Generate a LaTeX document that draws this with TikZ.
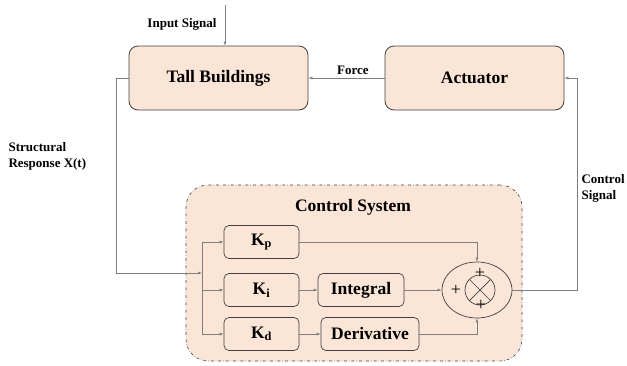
\documentclass[tikz,border=0pt]{standalone}
\usepackage{fontspec}
\setmainfont{Liberation Serif}
\usepackage{tikz}
\usetikzlibrary{shapes.geometric}
\usetikzlibrary{positioning}
\usetikzlibrary{calc}
\usetikzlibrary{arrows.meta}
\definecolor{peach}{HTML}{FBE5D6}
\definecolor{edge}{HTML}{404040}
\definecolor{wire}{HTML}{7F7F7F}
\tikzset{bigbox/.style={draw=edge,line width=0.8pt,fill=peach,rounded corners=9pt,minimum width=179pt,minimum height=64pt,font=\bfseries\fontsize{17.5}{19}\selectfont},
smallbox/.style={draw=edge,line width=0.7pt,rounded corners=5pt,minimum height=33pt,font=\bfseries\fontsize{17.5}{19}\selectfont},
lbl/.style={font=\bfseries\fontsize{13}{16}\selectfont,align=left},
wireline/.style={draw=wire,line width=0.6pt},
arr/.style={wireline,-{Latex[length=4pt,width=3pt]}}}

\begin{document}
\begin{tikzpicture}[x=1pt,y=-1pt]
\useasboundingbox (0,0) rectangle (627,365);

% plant and actuator
\node (tb) at (218.5,78) [bigbox] {Tall Buildings};
\node (act) at (474.5,78) [bigbox] {Actuator};

\coordinate (in) at (225,5);
\draw [arr] (in) -- (in |- tb.north);
\node (inlbl) at (182,24) [lbl] {Input Signal};

\draw [arr] (act.west) -- (tb.east);
\node (force) at (353,70) [lbl] {Force};

% controller
\node (cs) at (354,273) [draw=edge,dash dot,line width=0.6pt,fill=peach,rounded corners=22pt,minimum width=336pt,minimum height=176pt] {};
\node (cstitle) at (353,207) [font=\bfseries\fontsize{17.5}{19}\selectfont] {Control System};

\node (kp) at (261.5,242) [smallbox,minimum width=75pt] {K\textsubscript{p}};
\node (ki) at (261.5,290) [smallbox,minimum width=75pt] {K\textsubscript{i}};
\node (kd) at (261.5,334) [smallbox,minimum width=75pt] {K\textsubscript{d}};
\node (int) at (361,290) [smallbox,minimum width=86pt] {Integral};
\node (der) at (370,334) [smallbox,minimum width=98pt] {Derivative};

\node (sum) at (477,290) [draw=edge,line width=0.7pt,ellipse,minimum width=70pt,minimum height=56pt] {};
\node (x) at (480,290) [draw=edge,line width=0.7pt,circle,minimum size=30pt] {};
\draw [edge,line width=0.7pt] (x.north west) -- (x.south east);
\draw [edge,line width=0.7pt] (x.north east) -- (x.south west);
\node (p1) at (480,273) [font=\fontsize{18}{18}\selectfont] {+};
\node (p2) at (456,290) [font=\fontsize{18}{18}\selectfont] {+};
\node (p3) at (481,305) [font=\fontsize{18}{18}\selectfont] {+};

\coordinate (jn) at (202,273);
\draw [arr] (tb.west) -- (116,78) |- (jn);
\draw [arr] (jn) |- (kp.west);
\draw [arr] (jn) |- (kd.west);
\draw [arr] (jn |- ki.west) -- (ki.west);
\draw [arr] (ki.east) -- (int.west);
\draw [arr] (kd.east) -- (der.west);
\draw [arr] (int.east) -- (sum.west);
\draw [arr] (kp.east) -| (sum.north);
\draw [arr] (der.east) -| (sum.south);

% feedback to actuator
\coordinate (out) at (577,290);
\draw [arr] (sum.east) -- (out) |- (act.east);

\node (resp) at (5,156) [lbl,anchor=west] {Structural\\Response X(t)};
\node (ctl) at (578,188) [lbl,anchor=west] {Control\\Signal};
\end{tikzpicture}
\end{document}
